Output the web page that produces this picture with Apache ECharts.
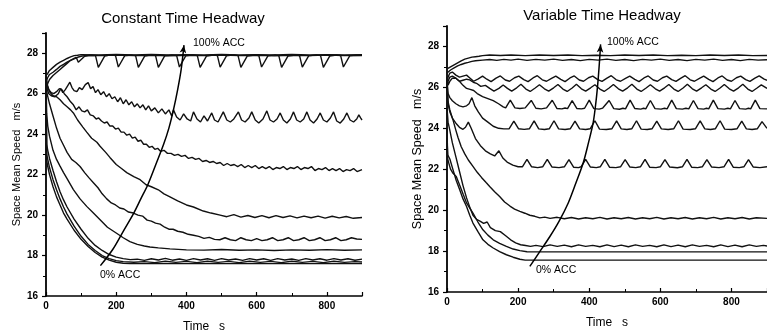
<!DOCTYPE html>
<html><head><meta charset="utf-8">
<script src="https://cdn.jsdelivr.net/npm/echarts/dist/echarts.min.js"></script>
<style>html,body{margin:0;padding:0;background:#fff}#c{width:767px;height:332px}</style>
</head><body><div id="c"></div>
<script>
// ---------- Constant Time Headway (left panel), [time s, speed m/s] ----------
const cth100 = [[0,26.9],[5,27.0],[10,27.15],[20,27.3],[30,27.45],[40,27.56],[50,27.65],[60,27.74],[70,27.82],[80,27.88],[90,27.9],[100,27.93],[150,27.92],[200,27.94],[250,27.92],[300,27.94],[350,27.92],[400,27.93],[450,27.92],[500,27.94],[550,27.92],[600,27.93],[650,27.92],[700,27.94],[750,27.92],[800,27.93],[850,27.92],[900,27.93]];
const cth90 = [[0,26.6],[5,26.8],[10,26.95],[20,27.06],[30,27.2],[40,27.35],[50,27.45],[60,27.56],[70,27.65],[80,27.72],[90,27.8],[100,27.85],[110,27.88],[130,27.9],[160,27.88],[200,27.91],[250,27.88],[300,27.9],[350,27.87],[400,27.9],[450,27.88],[500,27.91],[550,27.88],[600,27.9],[650,27.87],[700,27.9],[750,27.88],[800,27.91],[850,27.88],[900,27.9]];
const cth80 = [[0,26.2],[5,26.5],[10,26.7],[20,26.9],[30,27.05],[40,27.2],[50,27.35],[60,27.5],[70,27.65],[80,27.75],[86,27.8],[92,27.55],[97,27.6],[110,27.85],[125,27.9],[141,27.88],[149,27.3],[152,27.34],[167,27.86],[185,27.92],[198,27.88],[206,27.32],[209,27.36],[224,27.87],[242,27.91],[255,27.89],[263,27.3],[266,27.34],[281,27.86],[300,27.92],[312,27.88],[320,27.3],[323,27.35],[338,27.87],[358,27.91],[372,27.89],[380,27.32],[383,27.36],[398,27.87],[418,27.92],[431,27.88],[439,27.3],[442,27.34],[457,27.86],[476,27.91],[488,27.89],[496,27.31],[499,27.35],[514,27.87],[535,27.92],[547,27.88],[555,27.3],[558,27.35],[573,27.86],[594,27.91],[606,27.89],[614,27.32],[617,27.36],[632,27.87],[652,27.92],[663,27.88],[671,27.3],[674,27.34],[689,27.86],[710,27.91],[722,27.89],[730,27.31],[733,27.35],[748,27.87],[770,27.92],[782,27.88],[790,27.3],[793,27.35],[808,27.86],[827,27.91],[839,27.89],[847,27.32],[850,27.36],[865,27.87],[885,27.9],[900,27.88]];
const cth70 = [[0,26.6],[4,26.2],[8,26.0],[15,25.9],[25,25.85],[35,26.0],[42,26.25],[48,26.05],[55,26.2],[62,26.4],[68,26.57],[74,26.3],[80,26.15],[88,26.1],[95,26.3],[103,26.2],[112,26.45],[120,26.55],[127,26.25],[134,26.35],[141,26.05],[148,26.2],[156,25.95],[164,26.1],[172,25.85],[180,26.0],[188,25.75],[196,25.85],[204,25.6],[212,25.8],[220,25.5],[228,25.7],[236,25.45],[244,25.6],[252,25.35],[260,25.5],[268,25.3],[276,25.45],[284,25.2],[292,25.4],[300,25.15],[310,25.3],[320,25.05],[330,25.25],[340,25.0],[350,25.2],[358,24.9],[363,25.2],[372,24.85],[382,24.7],[392,25.0],[402,24.75],[412,24.65],[420,25.1],[430,24.75],[440,24.6],[450,24.9],[460,24.65],[472,25.05],[480,24.7],[490,24.6],[505,25.1],[515,24.7],[525,24.6],[535,24.75],[548,25.1],[557,24.7],[567,24.6],[578,24.8],[586,25.1],[596,24.7],[606,24.55],[618,24.75],[629,25.15],[638,24.7],[648,24.6],[658,24.75],[667,25.05],[676,24.7],[686,24.55],[696,24.75],[705,25.1],[714,24.7],[724,24.6],[734,24.75],[743,25.1],[752,24.7],[762,24.55],[772,24.75],[781,25.05],[790,24.7],[800,24.6],[810,24.8],[819,25.1],[828,24.65],[838,24.55],[848,24.75],[857,25.05],[866,24.7],[876,24.6],[885,24.75],[891,24.95],[896,24.8],[900,24.7]];
const cth60 = [[0,26.8],[4,26.4],[8,26.2],[15,26.05],[22,26.0],[30,26.1],[38,26.25],[45,26.2],[52,26.0],[60,25.85],[70,25.6],[78,25.45],[86,25.2],[94,25.35],[102,25.15],[110,25.1],[118,25.2],[126,24.95],[135,24.9],[143,24.75],[150,24.8],[158,24.65],[166,24.55],[174,24.6],[182,24.4],[190,24.4],[198,24.25],[206,24.3],[214,24.1],[222,24.1],[230,23.95],[238,24.0],[246,23.8],[254,23.85],[262,23.65],[270,23.7],[278,23.5],[286,23.5],[294,23.35],[302,23.4],[310,23.25],[318,23.3],[326,23.15],[336,23.2],[346,23.05],[356,23.05],[366,22.95],[376,23.0],[386,22.9],[396,22.95],[406,22.8],[416,22.85],[426,22.75],[436,22.8],[446,22.65],[456,22.7],[466,22.6],[476,22.65],[486,22.55],[496,22.6],[506,22.45],[516,22.55],[526,22.45],[536,22.5],[546,22.4],[556,22.5],[566,22.35],[576,22.45],[586,22.35],[596,22.45],[606,22.3],[616,22.4],[626,22.3],[636,22.4],[646,22.25],[656,22.35],[666,22.3],[676,22.4],[686,22.25],[696,22.35],[706,22.3],[716,22.4],[726,22.25],[736,22.35],[746,22.3],[756,22.4],[766,22.2],[776,22.3],[786,22.25],[796,22.35],[806,22.2],[816,22.3],[826,22.2],[836,22.3],[846,22.15],[856,22.25],[866,22.2],[876,22.3],[886,22.15],[900,22.25]];
const cth50 = [[0,26.9],[4,26.4],[10,26.1],[20,25.9],[30,25.85],[40,25.7],[50,25.5],[60,25.35],[70,25.2],[78,25.05],[90,24.7],[105,24.35],[116,24.1],[130,23.8],[145,23.6],[154,23.4],[170,23.1],[182,22.85],[200,22.5],[215,22.3],[230,22.1],[250,21.9],[268,21.75],[285,21.5],[300,21.4],[320,21.25],[336,21.05],[353,20.9],[375,20.7],[400,20.5],[420,20.4],[448,20.2],[470,20.1],[496,20.0],[515,19.92],[535,20.02],[555,19.9],[575,19.98],[595,19.88],[615,19.97],[635,19.87],[655,19.97],[675,19.88],[695,19.96],[715,19.86],[735,19.95],[755,19.87],[775,19.95],[795,19.85],[815,19.94],[835,19.86],[855,19.93],[875,19.84],[900,19.88]];
const cth40 = [[0,26.8],[3,26.0],[10,25.5],[20,24.9],[30,24.3],[40,23.8],[50,23.45],[60,23.1],[73,22.75],[85,22.6],[97,22.4],[110,22.1],[122,21.85],[135,21.6],[148,21.35],[160,21.05],[173,20.8],[186,20.6],[198,20.5],[210,20.35],[222,20.3],[235,20.15],[249,20.1],[262,20.0],[275,19.95],[288,19.75],[300,19.7],[312,19.6],[325,19.55],[338,19.4],[350,19.3],[362,19.3],[375,19.2],[390,19.15],[405,19.05],[420,19.0],[435,18.95],[450,18.85],[465,18.9],[480,18.8],[495,18.78],[510,18.88],[525,18.78],[540,18.74],[555,18.88],[570,18.78],[585,18.74],[600,18.84],[615,18.74],[630,18.78],[645,18.88],[660,18.74],[675,18.78],[690,18.88],[705,18.74],[720,18.78],[735,18.88],[750,18.74],[765,18.78],[780,18.88],[795,18.74],[810,18.78],[825,18.88],[840,18.74],[855,18.78],[870,18.88],[885,18.82],[900,18.8]];
const cth30 = [[0,26.7],[2,25.0],[5,24.4],[10,23.9],[20,23.2],[30,22.75],[40,22.42],[50,22.1],[60,21.8],[78,21.26],[97,20.8],[116,20.43],[135,20.1],[154,19.77],[175,19.4],[201,19.1],[220,18.88],[239,18.69],[260,18.55],[280,18.47],[296,18.42],[320,18.38],[353,18.33],[400,18.28],[450,18.27],[500,18.3],[550,18.26],[600,18.28],[650,18.25],[700,18.28],[750,18.26],[800,18.29],[850,18.26],[900,18.28]];
const cth20 = [[0,26.5],[2,23.5],[5,23.2],[10,22.8],[20,22.2],[30,21.65],[40,21.15],[50,20.75],[60,20.4],[80,19.8],[100,19.3],[120,18.85],[140,18.5],[160,18.25],[180,18.05],[200,17.92],[220,17.85],[240,17.8],[260,17.82],[280,17.76],[300,17.84],[320,17.78],[340,17.86],[360,17.77],[380,17.83],[400,17.76],[420,17.85],[440,17.78],[460,17.84],[480,17.76],[500,17.85],[520,17.78],[540,17.83],[560,17.76],[580,17.85],[600,17.78],[620,17.84],[640,17.76],[660,17.85],[680,17.78],[700,17.83],[720,17.76],[740,17.85],[760,17.78],[780,17.84],[800,17.77],[820,17.85],[840,17.78],[860,17.84],[880,17.77],[900,17.82]];
const cth10 = [[0,26.3],[2,23.0],[5,22.75],[10,22.35],[20,21.75],[30,21.25],[40,20.8],[50,20.4],[60,20.05],[80,19.45],[100,18.95],[120,18.55],[140,18.25],[160,18.0],[180,17.85],[200,17.75],[220,17.7],[250,17.67],[280,17.7],[310,17.65],[340,17.72],[370,17.66],[400,17.71],[430,17.65],[460,17.72],[490,17.66],[520,17.71],[550,17.65],[580,17.72],[610,17.66],[640,17.71],[670,17.65],[700,17.72],[730,17.66],[760,17.71],[790,17.65],[820,17.72],[850,17.66],[880,17.7],[900,17.68]];
const cth0 = [[0,26.0],[2,22.7],[5,22.4],[10,22.0],[20,21.4],[30,20.9],[40,20.5],[50,20.1],[60,19.8],[80,19.25],[100,18.8],[120,18.45],[140,18.15],[160,17.92],[180,17.77],[200,17.67],[220,17.62],[240,17.6],[900,17.6]];
const cthArrow = [[155,17.5],[190,18.3],[220,19.2],[250,20.1],[270,20.8],[290,21.5],[315,22.6],[335,23.5],[350,24.3],[363,25.2],[375,26.2],[385,27.2],[393,28.4]];

// ---------- Variable Time Headway (right panel) ----------
const vth100 = [[0,26.9],[5,26.95],[10,27.0],[20,27.1],[30,27.2],[40,27.3],[50,27.38],[60,27.43],[70,27.48],[80,27.5],[90,27.52],[100,27.55],[120,27.58],[150,27.56],[180,27.58],[220,27.55],[260,27.58],[300,27.56],[340,27.58],[380,27.55],[420,27.57],[460,27.55],[500,27.58],[540,27.56],[580,27.58],[620,27.55],[660,27.57],[700,27.55],[740,27.58],[780,27.56],[820,27.58],[860,27.55],[900,27.56]];
const vth90 = [[0,26.7],[5,26.75],[10,26.85],[20,26.95],[30,27.05],[40,27.12],[50,27.18],[60,27.22],[70,27.27],[80,27.3],[100,27.33],[120,27.36],[140,27.32],[160,27.37],[180,27.33],[200,27.38],[225,27.32],[250,27.37],[275,27.33],[300,27.38],[325,27.32],[350,27.36],[375,27.31],[400,27.37],[425,27.33],[450,27.38],[475,27.32],[500,27.36],[525,27.31],[550,27.37],[575,27.33],[600,27.38],[625,27.32],[650,27.36],[675,27.31],[700,27.37],[725,27.33],[750,27.38],[775,27.32],[800,27.36],[825,27.31],[850,27.37],[875,27.33],[900,27.35]];
const vth80 = [[0,26.2],[3,26.5],[8,26.7],[15,26.75],[25,26.6],[35,26.5],[45,26.55],[55,26.6],[65,26.45],[75,26.3],[88,26.42],[100,26.55],[112,26.4],[124,26.28],[138,26.45],[150,26.56],[164,26.36],[176,26.3],[190,26.47],[202,26.55],[216,26.38],[228,26.28],[242,26.46],[254,26.57],[268,26.37],[280,26.3],[294,26.44],[306,26.55],[320,26.39],[332,26.28],[346,26.46],[358,26.56],[372,26.36],[384,26.3],[398,26.47],[410,26.55],[424,26.38],[436,26.29],[450,26.45],[462,26.57],[476,26.37],[488,26.3],[502,26.44],[514,26.55],[528,26.39],[540,26.28],[554,26.46],[566,26.56],[580,26.36],[592,26.3],[606,26.47],[618,26.55],[632,26.38],[644,26.29],[658,26.45],[670,26.57],[684,26.37],[696,26.3],[710,26.44],[722,26.55],[736,26.39],[748,26.28],[762,26.46],[774,26.56],[788,26.36],[800,26.3],[814,26.47],[826,26.55],[840,26.38],[852,26.29],[866,26.45],[878,26.56],[892,26.4],[900,26.35]];
const vth70 = [[0,26.0],[3,26.3],[8,26.5],[15,26.55],[25,26.45],[35,26.3],[45,26.35],[55,26.4],[64,26.37],[74,26.25],[83,26.2],[95,26.05],[108,26.1],[120,25.95],[132,25.82],[146,25.95],[158,26.12],[170,25.95],[182,25.82],[196,25.98],[208,26.15],[222,25.92],[234,25.8],[248,25.97],[260,26.13],[274,25.93],[286,25.82],[300,25.98],[312,26.14],[326,25.92],[338,25.8],[352,25.97],[364,26.15],[378,25.93],[390,25.82],[404,25.98],[416,26.13],[430,25.92],[442,25.8],[456,25.97],[468,26.14],[482,25.93],[494,25.82],[508,25.98],[520,26.15],[534,25.92],[546,25.8],[560,25.97],[572,26.13],[586,25.93],[598,25.82],[612,25.98],[624,26.14],[638,25.92],[650,25.8],[664,25.97],[676,26.15],[690,25.93],[702,25.82],[716,25.98],[728,26.13],[742,25.92],[754,25.8],[768,25.97],[780,26.14],[794,25.93],[806,25.82],[820,25.98],[832,26.15],[846,25.92],[858,25.8],[872,25.97],[884,26.12],[900,25.95]];
const vth60 = [[0,26.5],[3,26.1],[8,26.3],[15,26.45],[25,26.45],[35,26.3],[45,26.1],[55,25.95],[65,25.9],[75,25.85],[85,25.7],[100,25.55],[115,25.45],[130,25.35],[145,25.2],[158,25.05],[165,25.0],[178,25.38],[191,25.0],[205,24.97],[220,25.0],[224,24.98],[237,25.36],[250,24.98],[265,24.95],[280,25.0],[283,24.97],[296,25.37],[309,24.97],[323,24.95],[332,24.99],[339,24.96],[352,25.35],[365,24.97],[378,24.95],[387,24.98],[400,25.38],[413,24.96],[428,24.94],[438,24.99],[443,24.95],[456,25.36],[469,24.96],[485,24.93],[495,24.98],[502,24.95],[515,25.38],[528,24.97],[545,24.94],[553,24.98],[559,24.95],[572,25.36],[585,24.96],[602,24.94],[612,24.98],[619,24.95],[632,25.38],[645,24.96],[662,24.94],[672,24.98],[680,24.95],[693,25.36],[706,24.96],[722,24.94],[730,24.98],[736,24.95],[749,25.38],[762,24.96],[780,24.94],[790,24.98],[797,24.95],[810,25.36],[823,24.96],[840,24.94],[848,24.98],[854,24.95],[867,25.38],[880,24.96],[900,24.95]];
const vth50 = [[0,26.3],[3,25.7],[8,25.5],[15,25.35],[25,25.2],[35,25.1],[45,25.05],[55,25.1],[62,25.2],[70,25.5],[78,25.1],[88,24.8],[100,24.5],[115,24.3],[130,24.1],[145,24.0],[160,23.97],[175,23.98],[188,24.35],[201,23.98],[217,23.95],[232,23.98],[245,24.36],[258,23.97],[274,23.94],[288,23.98],[301,24.37],[314,23.97],[332,23.94],[347,23.98],[360,24.35],[373,23.97],[390,23.94],[403,23.98],[416,24.37],[429,23.96],[448,23.94],[464,23.98],[477,24.36],[490,23.97],[506,23.94],[520,23.98],[533,24.37],[546,23.96],[563,23.94],[577,23.98],[590,24.35],[603,23.97],[622,23.94],[638,23.98],[651,24.37],[664,23.96],[684,23.94],[699,23.98],[712,24.36],[725,23.97],[741,23.94],[755,23.98],[768,24.37],[781,23.96],[800,23.94],[816,23.98],[829,24.35],[842,23.97],[858,23.94],[873,23.98],[886,24.33],[900,24.0]];
const vth40 = [[0,26.5],[3,25.2],[8,24.8],[15,24.5],[25,24.25],[35,24.05],[45,23.95],[52,24.05],[60,24.3],[68,24.0],[80,23.5],[94,23.15],[108,22.9],[122,22.75],[134,22.65],[146,22.9],[157,22.55],[169,22.35],[185,22.2],[200,22.12],[212,22.12],[225,22.48],[238,22.12],[255,22.08],[269,22.12],[282,22.48],[295,22.11],[315,22.08],[330,22.12],[343,22.47],[356,22.1],[370,22.08],[377,22.12],[390,22.48],[403,22.11],[420,22.08],[431,22.12],[444,22.48],[457,22.1],[475,22.08],[488,22.12],[501,22.47],[514,22.11],[531,22.08],[544,22.12],[557,22.48],[570,22.1],[588,22.08],[600,22.12],[613,22.47],[626,22.11],[648,22.07],[662,22.12],[675,22.48],[688,22.1],[705,22.08],[718,22.12],[731,22.47],[744,22.11],[765,22.08],[779,22.12],[792,22.48],[805,22.1],[822,22.08],[835,22.12],[848,22.47],[861,22.11],[880,22.08],[900,22.12]];
const vth30 = [[0,26.0],[3,25.3],[8,24.9],[17,24.4],[25,23.9],[31,23.55],[40,23.1],[50,22.75],[60,22.45],[73,22.14],[85,21.85],[97,21.6],[110,21.35],[120,21.16],[134,20.9],[148,20.67],[162,20.4],[177,20.2],[190,20.05],[205,19.94],[219,19.85],[233,19.75],[247,19.7],[261,19.62],[275,19.66],[290,19.6],[310,19.65],[330,19.58],[350,19.64],[370,19.57],[390,19.63],[410,19.58],[430,19.65],[450,19.57],[470,19.63],[490,19.58],[510,19.64],[530,19.57],[550,19.63],[570,19.58],[590,19.65],[610,19.57],[630,19.63],[650,19.58],[670,19.64],[690,19.57],[710,19.63],[730,19.58],[750,19.65],[770,19.57],[790,19.63],[810,19.58],[830,19.64],[850,19.57],[870,19.63],[900,19.6]];
const vth20 = [[0,25.0],[3,24.3],[8,23.9],[15,23.3],[25,22.6],[35,21.9],[45,21.2],[55,20.6],[65,20.1],[73,19.75],[83,19.55],[94,19.45],[103,19.35],[113,19.42],[122,19.15],[136,19.0],[150,18.95],[165,18.75],[179,18.55],[193,18.4],[207,18.31],[221,18.27],[235,18.23],[250,18.28],[270,18.22],[290,18.3],[310,18.23],[330,18.29],[350,18.21],[370,18.3],[390,18.23],[410,18.28],[430,18.21],[450,18.3],[470,18.22],[490,18.29],[510,18.21],[530,18.3],[550,18.23],[570,18.28],[590,18.21],[610,18.3],[630,18.22],[650,18.29],[670,18.21],[690,18.3],[710,18.23],[730,18.28],[750,18.21],[770,18.3],[790,18.22],[810,18.29],[830,18.21],[850,18.3],[870,18.23],[890,18.28],[900,18.25]];
const vth10 = [[0,24.0],[2,22.5],[5,22.3],[10,22.0],[17,21.8],[26,21.65],[36,21.2],[46,20.75],[55,20.35],[64,20.1],[73,19.86],[87,19.42],[101,19.04],[115,18.78],[130,18.55],[148,18.38],[167,18.23],[186,18.1],[205,18.02],[225,17.97],[900,17.96]];
const vth0 = [[0,23.5],[2,22.7],[8,22.5],[17,21.97],[26,21.45],[36,20.99],[45,20.55],[55,20.18],[64,19.75],[73,19.37],[87,18.95],[101,18.55],[115,18.33],[130,18.15],[148,17.97],[167,17.82],[186,17.7],[205,17.6],[220,17.56],[900,17.56]];
const vthArrow = [[233,17.25],[260,17.95],[289,18.7],[315,19.45],[341,20.35],[362,21.3],[383,22.3],[398,23.3],[411,24.26],[419,25.3],[425,26.37],[429,27.3],[432,28.1]];

// ---------- axes / text ----------
const xTicks = {min: 0, max: 900, step: 200};
const yTicks = {min: 16, max: 29, step: 2};
const titles = ['Constant Time Headway', 'Variable Time Headway'];
const xName = 'Time   s';
const yName = 'Space Mean Speed   m/s';
const arrowLabels = ['100% ACC', '0% ACC'];

const FONT = '"Liberation Sans", Arial, Helvetica, sans-serif';
const cthCurves = [cth0, cth10, cth20, cth30, cth40, cth50, cth60, cth70, cth80, cth90, cth100];
const vthCurves = [vth0, vth10, vth20, vth30, vth40, vth50, vth60, vth70, vth80, vth90, vth100];

function xAxis(gridIndex, gap) {
  return {
    type: 'value', gridIndex, min: xTicks.min, max: xTicks.max, interval: xTicks.step,
    name: xName, nameLocation: 'middle', nameGap: gap,
    nameTextStyle: {color: '#000', fontSize: 12, fontFamily: FONT},
    axisLine: {show: true, lineStyle: {color: '#000', width: 1.6}},
    axisTick: {show: true, inside: true, length: 4, lineStyle: {color: '#000', width: 1.2}},
    minorTick: {show: true, splitNumber: 2, length: 3, lineStyle: {color: '#000', width: 1}},
    axisLabel: {color: '#000', fontSize: 10, fontWeight: 'bold', fontFamily: FONT, margin: 5,
      formatter: v => (v % xTicks.step === 0 ? String(v) : '')},
    splitLine: {show: false}
  };
}
function yAxis(gridIndex, gap, fs) {
  return {
    type: 'value', gridIndex, min: yTicks.min, max: yTicks.max, interval: yTicks.step,
    name: yName, nameLocation: 'middle', nameRotate: 90, nameGap: gap,
    nameTextStyle: {color: '#000', fontSize: fs, fontFamily: FONT},
    axisLine: {show: true, lineStyle: {color: '#000', width: 1.8}},
    axisTick: {show: true, inside: false, length: 4, lineStyle: {color: '#000', width: 1.2}},
    minorTick: {show: true, splitNumber: 2, length: 3, lineStyle: {color: '#000', width: 1}},
    axisLabel: {color: '#000', fontSize: 10, fontWeight: 'bold', fontFamily: FONT, margin: 8,
      formatter: v => ((v - yTicks.min) % yTicks.step === 0 ? String(v) : '')},
    splitLine: {show: false}
  };
}
function curveSeries(data, idx) {
  return {type: 'line', xAxisIndex: idx, yAxisIndex: idx, data, symbol: 'none', silent: true,
    lineStyle: {color: '#111', width: 1.4}, z: 3};
}
function arrowSeries(data, idx, rot) {
  const d = data.map((p, i) => i === data.length - 1
    ? {value: p, symbol: 'arrow', symbolSize: [5, 8], symbolRotate: rot, itemStyle: {color: '#000'}}
    : {value: p});
  return {type: 'line', xAxisIndex: idx, yAxisIndex: idx, data: d, symbol: 'none', smooth: 0.3,
    silent: true, lineStyle: {color: '#000', width: 1.5}, z: 5};
}

const chart = echarts.init(document.getElementById('c'), null, {renderer: 'canvas'});
const txt = (t, x, y, size, weight, align) => ({type: 'text', x, y, silent: true,
  style: {text: t, fill: '#000', font: `${weight} ${size}px ${FONT}`, align: align || 'left', verticalAlign: 'middle'}});

chart.setOption({
  animation: false,
  backgroundColor: '#fff',
  grid: [
    {left: 46, top: 33, width: 316, height: 263, outerBoundsMode: 'none'},
    {left: 447, top: 26, width: 320, height: 266, outerBoundsMode: 'none'}
  ],
  xAxis: [xAxis(0, 25), xAxis(1, 25)],
  yAxis: [yAxis(0, 24, 11), yAxis(1, 23, 12.5)],
  series: [
    ...cthCurves.map(c => curveSeries(c, 0)),
    ...vthCurves.map(c => curveSeries(c, 1)),
    arrowSeries(cthArrow, 0, -8),
    arrowSeries(vthArrow, 1, -4)
  ],
  graphic: [
    txt(titles[0], 183, 19, 15, 'normal', 'center'),
    txt(titles[1], 602, 16, 15, 'normal', 'center'),
    txt(arrowLabels[0], 193, 43, 10.5, 'normal'),
    txt(arrowLabels[1], 100, 275, 10.5, 'normal'),
    txt(arrowLabels[0], 607, 42, 10.5, 'normal'),
    txt(arrowLabels[1], 536, 270, 10.5, 'normal')
  ]
});
</script></body></html>
